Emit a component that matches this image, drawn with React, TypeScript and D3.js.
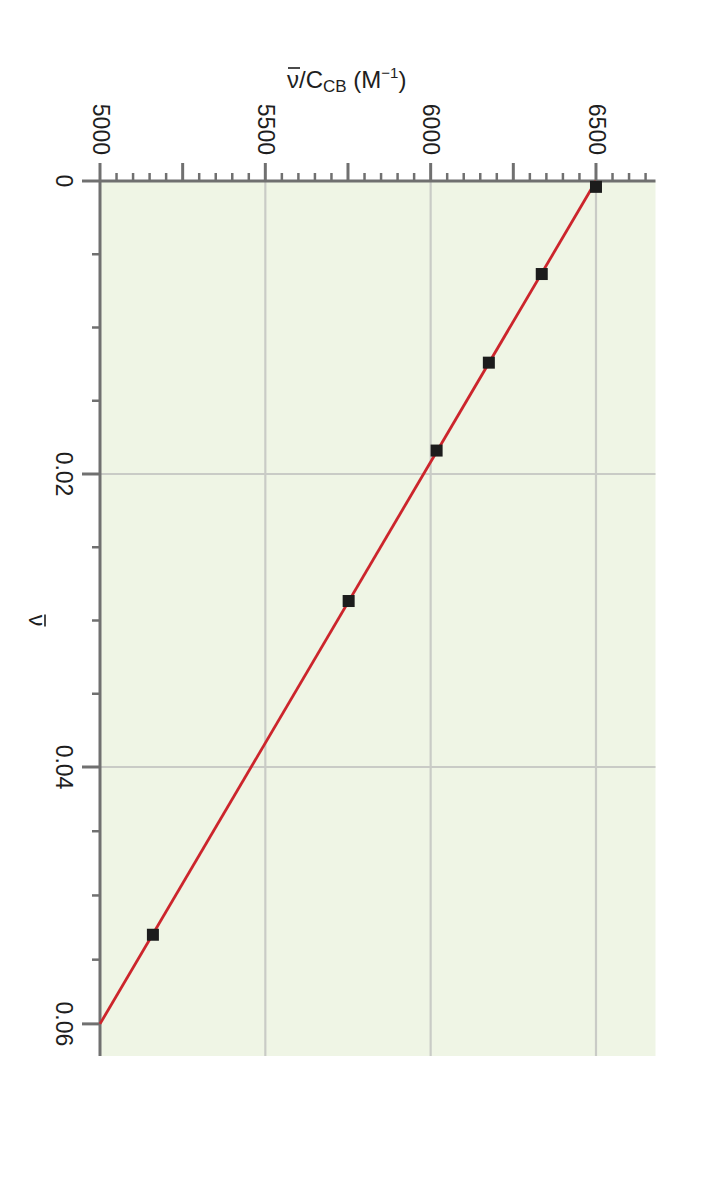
import React from "react";
import * as d3 from "d3";

const nuValues = [0.0004, 0.00635, 0.0124, 0.0184, 0.02867, 0.05306];
const ratioValues = [6500, 6336, 6176, 6018, 5752, 5160];
const fitNu = [0, 0.06];
const fitRatio = [6500, 5000];
const ratioMajorTicks = [5000, 5250, 5500, 5750, 6000, 6250, 6500];
const ratioLabelTicks = [5000, 5500, 6000, 6500];
const ratioGridTicks = [5500, 6000, 6500];
const nuMajorTicks = [0, 0.02, 0.04, 0.06];
const nuLabels = ["0", "0.02", "0.04", "0.06"];
const nuGridTicks = [0.02, 0.04];

const W = 707;
const H = 1188;
const FONT = "'Liberation Sans', Arial, Helvetica, sans-serif";

export default function App() {
  const x = d3.scaleLinear().domain([5000, 6680]).range([100, 655.5]);
  const y = d3.scaleLinear().domain([0, 0.04, 0.0625]).range([181, 767, 1056]);

  const ratioMinor = d3.range(5000, 6651, 50).filter((v) => v % 250 !== 0);
  const nuMinor = d3.range(0, 0.0601, 0.005).filter(
    (v) => nuMajorTicks.every((m) => Math.abs(m - v) > 1e-6)
  );

  const line = d3
    .line<number>()
    .x((_, i) => x(fitRatio[i]))
    .y((d) => y(d));

  const axisColor = "#707070";
  const gridColor = "#c9cbc6";
  const left = x(5000);
  const right = x(6680);
  const top = y(0);
  const bottom = y(0.0625);

  return (
    <svg width={W} height={H} style={{ display: "block", position: "absolute", left: 0, top: 0, background: "#fff" }}>
      <rect x={left} y={top} width={right - left} height={bottom - top} fill="#eff5e5" />
      {ratioGridTicks.map((v) => (
        <line key={"gx" + v} x1={x(v)} x2={x(v)} y1={top} y2={bottom} stroke={gridColor} strokeWidth={2.2} />
      ))}
      {nuGridTicks.map((v) => (
        <line key={"gy" + v} x1={left} x2={right} y1={y(v)} y2={y(v)} stroke={gridColor} strokeWidth={2.2} />
      ))}
      {/* top axis */}
      <line x1={left} x2={right} y1={top} y2={top} stroke={axisColor} strokeWidth={3} />
      {ratioMajorTicks.map((v) => (
        <line key={"tM" + v} x1={x(v)} x2={x(v)} y1={top} y2={top - 18} stroke={axisColor} strokeWidth={3} />
      ))}
      {ratioMinor.map((v) => (
        <line key={"tm" + v} x1={x(v)} x2={x(v)} y1={top} y2={top - 8} stroke={axisColor} strokeWidth={2.5} />
      ))}
      {ratioLabelTicks.map((v) => (
        <text
          key={"tl" + v}
          transform={`translate(${x(v) + 1},155) rotate(90)`}
          textAnchor="end"
          dy="0.36em"
          fontFamily={FONT}
          fontSize={23}
          fill="#1e1e1e"
        >
          {v}
        </text>
      ))}
      {/* left axis */}
      <line x1={left} x2={left} y1={top} y2={bottom} stroke={axisColor} strokeWidth={3} />
      {nuMajorTicks.map((v) => (
        <line key={"lM" + v} x1={left} x2={left - 18} y1={y(v)} y2={y(v)} stroke={axisColor} strokeWidth={3} />
      ))}
      {nuMinor.map((v) => (
        <line key={"lm" + v} x1={left} x2={left - 8} y1={y(v)} y2={y(v)} stroke={axisColor} strokeWidth={2.5} />
      ))}
      {nuMajorTicks.map((v, i) => (
        <text
          key={"ll" + v}
          transform={`translate(64,${y(v)}) rotate(90)`}
          textAnchor="middle"
          dy="0.36em"
          fontFamily={FONT}
          fontSize={23}
          fill="#1e1e1e"
        >
          {nuLabels[i]}
        </text>
      ))}
      {/* left axis title: nu-bar */}
      <g transform={`translate(37,${y(0.03)}) rotate(90)`}>
        <text textAnchor="middle" dy="0.36em" fontFamily={FONT} fontSize={23} fill="#1e1e1e">
          ν
        </text>
        <line x1={-6} x2={6} y1={-8} y2={-8} stroke="#1e1e1e" strokeWidth={1.6} />
      </g>
      {/* top axis title */}
      <g>
        <text x={287} y={88} textAnchor="start" fontFamily={FONT} fontSize={24} fill="#1e1e1e">
          <tspan>ν/C</tspan>
          <tspan fontSize={17} dy={4}>CB</tspan>
          <tspan dy={-4}> (M</tspan>
          <tspan fontSize={15} dy={-10}>−1</tspan>
          <tspan dy={10}>)</tspan>
        </text>
        <line x1={288} x2={300} y1={68} y2={68} stroke="#1e1e1e" strokeWidth={1.6} />
      </g>
      {/* fit line */}
      <path d={line(fitNu) || ""} fill="none" stroke="#cc252c" strokeWidth={2.8} />
      {/* points */}
      {nuValues.map((n, i) => (
        <rect
          key={"p" + i}
          x={x(ratioValues[i]) - 6}
          y={y(n) - 6}
          width={12}
          height={12}
          fill="#1c1c1c"
        />
      ))}
    </svg>
  );
}
